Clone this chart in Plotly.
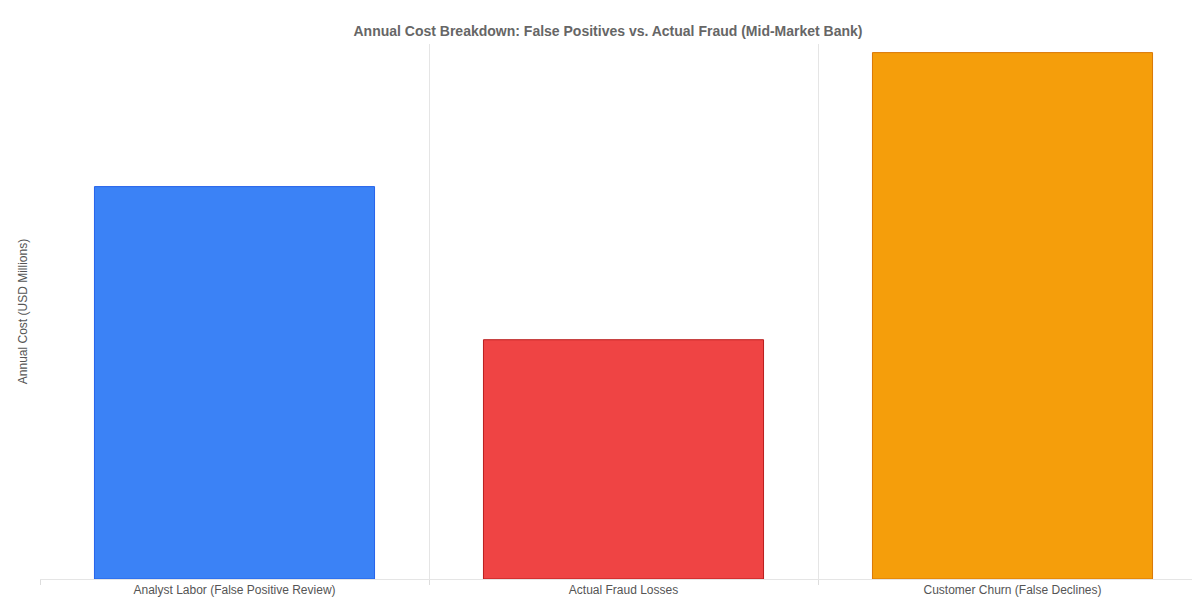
import plotly.graph_objects as go

categories = ["Analyst Labor (False Positive Review)", "Actual Fraud Losses", "Customer Churn (False Declines)"]
values = [4.1, 2.5, 5.5]
colors = ["#3b82f6", "#ef4444", "#f59e0b"]
borders = ["#2563eb", "#b91c1c", "#d97706"]

fig = go.Figure(go.Bar(x=categories, y=values, marker=dict(color=colors, line=dict(color=borders, width=1)), width=0.72))
fig.update_layout(
    width=1200, height=600, plot_bgcolor="white", paper_bgcolor="white",
    font=dict(family="Liberation Sans, Arial", size=12, color="#555"),
    title=dict(text="<b>Annual Cost Breakdown: False Positives vs. Actual Fraud (Mid-Market Bank)</b>",
               x=0.5, xanchor="center", y=0.97, font=dict(size=14, color="#666")),
    margin=dict(l=32, r=1, t=36, b=29), showlegend=False,
)
fig.update_xaxes(tickson="boundaries", showgrid=True, gridcolor="#e5e5e5", ticks="outside",
                 ticklen=5, tickcolor="#ddd", showline=True, linecolor="#e5e5e5", tickfont=dict(size=12, color="#555"))
fig.update_yaxes(range=[0, 5.59], showticklabels=False, showgrid=False, zeroline=False,
                 title=dict(text="Annual Cost (USD Millions)", standoff=8, font=dict(size=12, color="#555")))
fig.write_html("out.html")
